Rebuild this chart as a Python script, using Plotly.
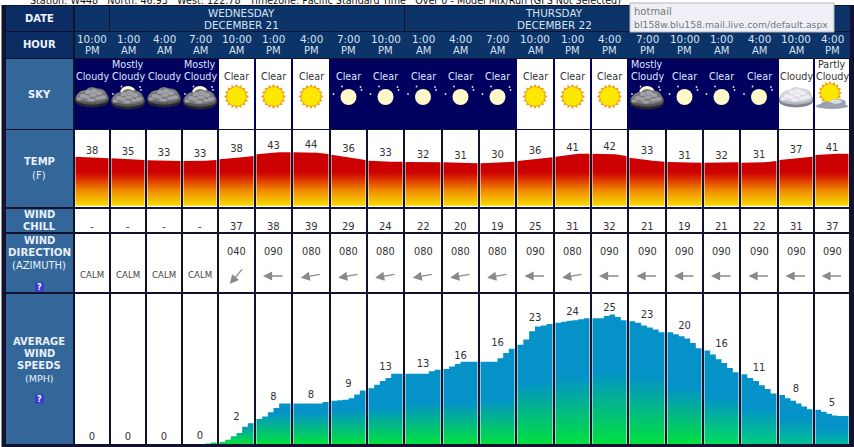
import math
import plotly.graph_objects as go

W, H = 854, 447
FONT = "DejaVu Sans"
FONTB = "DejaVu Sans, Verdana"

# ---------- data ----------
hour_top = ["10:00","1:00","4:00","7:00","10:00","1:00","4:00","7:00","10:00","1:00","4:00","7:00","10:00","1:00","4:00","7:00","10:00","1:00","4:00","10:00","4:00"]
hour_bot = ["PM","AM","AM","AM","AM","PM","PM","PM","PM","AM","AM","AM","AM","PM","PM","PM","PM","AM","AM","AM","PM"]
sky = ["Cloudy","Mostly<br>Cloudy","Cloudy","Mostly<br>Cloudy","Clear","Clear","Clear","Clear","Clear","Clear","Clear","Clear","Clear","Clear","Clear","Mostly<br>Cloudy","Clear","Clear","Clear","Cloudy","Partly<br>Cloudy"]
is_day = [0,0,0,0,1,1,1,0,0,0,0,0,1,1,1,0,0,0,0,1,1]
temp = [38,35,33,33,38,43,44,36,33,32,31,30,36,41,42,33,31,32,31,37,41]
chill = ["-","-","-","-",37,38,39,29,24,22,20,19,25,31,32,21,19,21,22,31,37]
azimuth = [None,None,None,None,40,90,80,80,80,80,80,80,90,80,90,90,90,90,90,90,90]
wind = [0,0,0,0,2,8,8,9,13,13,16,16,23,24,25,23,20,16,11,8,5]
temp_curve = [
 [38.5,38.1,37.2,36.4],[36.4,35.5,35.1,34.3],[33.8,33.4,33.0,33.0],[33.0,33.0,33.4,34.3],
 [35.1,35.9,37.6,39.3],[41.5,42.7,44.0,44.0],[44.0,44.0,43.6,41.9],[41.0,38.5,36.4,34.3],
 [33.4,32.6,32.1,32.1],[31.7,31.7,31.7,31.3],[31.3,30.9,30.4,30.0],[30.0,30.4,31.3,32.1],
 [33.0,34.3,36.4,37.6],[38.5,40.6,42.3,42.3],[42.3,42.3,41.5,39.3],[37.2,35.1,33.4,32.1],
 [31.7,31.3,30.9,30.9],[30.9,31.3,31.7,31.3],[30.9,30.9,31.3,33.0],[34.3,35.9,37.6,38.5],
 [40.6,41.9,42.3,42.3]]
wind_curve = [
 [0,0,0,0,0,0],[0,0,0,0,0,0],[0,0,0,0,0,0],[0,0,0,0,0.1,0.3],
 [0.4,0.8,1.5,2.1,3.3,4.0],[4.8,5.3,6.1,6.9,7.8,7.8],[7.8,7.8,7.8,7.8,7.8,8.1],[8.3,8.4,8.5,8.8,9.5,10.3],
 [10.7,11.4,12.1,12.7,13.5,13.5],[13.5,13.5,13.5,13.5,14.0,14.3],[14.4,14.9,15.4,15.8,15.8,15.8],[15.8,15.8,15.8,16.5,17.5,18.3],
 [19.1,20.1,21.7,22.6,22.8,23.1],[23.3,23.5,23.7,23.8,24.0,24.2],[24.2,24.2,24.6,24.9,24.4,23.8],[23.6,23.3,22.8,22.4,22.0,21.5],
 [21.5,21.1,20.7,20.3,19.4,18.4],[18.0,17.2,16.3,15.6,14.6,13.8],[13.4,12.7,12.1,11.3,10.6,9.7],[9.4,8.8,8.3,7.8,7.2,6.7],
 [6.6,6.2,5.8,5.5,5.4,5.4]]

# ---------- layout constants ----------
edges = [74,110,146,182,218,255,292,330,367,404,442,479,516,554,591,628,666,703,740,778,814,850]
centres = [(edges[i]+edges[i+1])/2 for i in range(21)]
temp_label_y = [45.7,44,41.9,41.5,47,51.2,52.5,48.2,41.9,40.6,38.5,39.8,44.8,49.1,50.4,44.8,39.3,39.3,40.2,46.1,49.5]
wind_label_y = [1.2,1.2,1.2,1.5,5.1,9.0,9.3,11.4,14.7,15.2,16.8,19.3,24.1,25.3,26.0,24.7,22.6,19.2,14.5,10.5,7.8]
blue_until = [1,1,1,1,4,6,6,6.5,7,8,8,8.5,12,13,14,13,11,9,7,5,3]
green_base = ["#00e040"]*17 + ["#00dc60","#00cc80","#00c090","#00b8a0"]
ROW = dict(date=(6,31),hour=(32,58),sky=(59,129),temp=(130,207),chill=(209,232),dir=(234,292),wind=(294,444))
NAVY, STEEL, HEAD, NIGHT = "#0b2d63", "#336699", "#0d3468", "#00005f"
DARK = "#12122e"
HEADTXT, BODY = "#d4e2f0", "#333333"

def py(p):
    return 1 - p / H

shapes, ann = [], []
def rect(x0, y0, x1, y1, color, line=None):
    shapes.append(dict(type="rect", xref="x", yref="paper", x0=x0, x1=x1, y0=py(y0), y1=py(y1),
                       fillcolor=color, line=dict(width=1 if line else 0, color=line or color), layer="below"))
def oval(cx, cy, rx, ry, color):
    shapes.append(dict(type="circle", xref="x", yref="paper", x0=cx-rx, x1=cx+rx, y0=py(cy+ry), y1=py(cy-ry),
                       fillcolor=color, line=dict(width=0), layer="below"))
def text(x, y, s, size=10, color=BODY, bold=False, xanchor="center"):
    ann.append(dict(xref="x", yref="paper", x=x, y=py(y), text=("<b>%s</b>" % s) if bold else s, showarrow=False,
                    xanchor=xanchor, yanchor="middle", align="center",
                    font=dict(family=FONTB, size=size, color=color), borderpad=0, borderwidth=0))

# frame and top strip
rect(0, 0, W, 5, "#ffffff")
rect(0, 0, 1.5, H, "#ffffff")
text(30, 0.2, "Station: W448 &nbsp; North: 46.93 &nbsp; West: 122.78 &nbsp; Timezone: Pacific Standard Time &nbsp; Over 0 - Model Mix/Run (GFS Not Selected)",
     size=9.6, color="#111111", xanchor="left")

# left label column
for key, col in [("date",NAVY),("hour",NAVY),("sky",STEEL),("temp",STEEL),("chill",STEEL),("dir",STEEL),("wind",STEEL)]:
    rect(6, ROW[key][0], 73, ROW[key][1], col)
rect(75, 6, 109, 31, HEAD)
rect(110, 6, 404, 31, HEAD)
rect(405, 6, 850, 31, HEAD)
rect(75, 32, 850, 58, HEAD)
rect(75, 59, 850, 129, NIGHT)

for i in range(21):
    l, r = edges[i]+1, edges[i+1]-1
    if is_day[i]:
        rect(l, ROW["sky"][0], r, ROW["sky"][1], "#ffffff")
    for key in ("temp","chill","dir","wind"):
        rect(l, ROW[key][0], r, ROW[key][1], "#ffffff")

# row labels
text(39, 19, "DATE", 10, "#eef3fa", True)
text(39, 45, "HOUR", 10, "#eef3fa", True)
text(39, 94, "SKY", 10, "#eef3fa", True)
text(39, 162, "TEMP", 10, "#e8f0f8", True)
text(39, 175, "(F)", 10, "#e8f0f8")
text(39, 214, "WIND", 10, "#e8f0f8", True)
text(39, 226, "CHILL", 10, "#e8f0f8", True)
text(39, 240, "WIND", 10, "#e8f0f8", True)
text(39, 252, "DIRECTION", 10.3, "#e8f0f8", True)
text(39, 265, "(AZIMUTH)", 10, "#e8f0f8")
text(39, 341, "AVERAGE", 10, "#e8f0f8", True)
text(39, 353, "WIND", 10, "#e8f0f8", True)
text(39, 365, "SPEEDS", 10, "#e8f0f8", True)
text(39, 378, "(MPH)", 9.5, "#e8f0f8")
for qy in (287, 399):
    rect(35, qy-4.5, 44, qy+4.5, "#3a3acc")
    text(39.5, qy, "?", 8, "#ffffff", True)

text(241, 13, "WEDNESDAY", 10.4, HEADTXT)
text(241, 25, "DECEMBER 21", 10.4, HEADTXT)
text(554, 13, "THURSDAY", 10.4, HEADTXT)
text(554, 25, "DECEMBER 22", 10.4, HEADTXT)

BLOBS = [(0,3.5,16.5,6),(-7,0,8.5,7),(6,-1,9.5,8),(0,-4,7,5.5),(-12,2,5,5),(12,2,5,5)]
SPECKS = [(-9,-1,3,2),(-4,-5,3,2),(2,-6,3.4,2.2),(7,-4,3,2),(11,0,3,1.8),(-13,2,2.5,1.6),(-5,0,3,1.8),(1,-2,3.5,1.8),(6,1,3,1.6),(-1,3,3.5,1.4)]
def cloud(cx, cy, tone="dark"):
    if tone == "dark":
        base, mid, top, hi = "#26262c", "#58585c", "#7c7c80", "#a2a2a6"
    else:
        base, mid, top, hi = "#80848c", "#b4b7be", "#d6d8de", "#f0f0f4"
    for dx, dy, rx, ry in BLOBS:
        oval(cx+dx, cy+dy+1, rx, ry, base)
    for dx, dy, rx, ry in BLOBS:
        oval(cx+dx, cy+dy-0.8, rx*0.94, ry*0.85, mid)
    for dx, dy, rx, ry in BLOBS:
        oval(cx+dx*0.95, cy+dy-2.2, rx*0.84, ry*0.66, top)
    for dx, dy, rx, ry in SPECKS:
        oval(cx+dx, cy+dy, rx, ry, hi)

def sun(cx, cy, r=9.5, rays=True):
    if rays:
        pts = []
        for k in range(32):
            rad = r+3 if k % 2 == 0 else r+0.3
            a = math.pi * k / 16
            pts.append("%s%.2f,%.5f" % ("M" if k == 0 else "L", cx+rad*math.cos(a), py(cy+rad*math.sin(a))))
        shapes.append(dict(type="path", xref="x", yref="paper", path=" ".join(pts)+" Z",
                           fillcolor="#f0a010", line=dict(width=0), layer="below"))
    oval(cx, cy, r, r, "#ffe800")

def stars(cx):
    for dx, dy in [(-6.5,-10.5),(12,-10),(-15,-3),(13,-7)]:
        oval(cx+dx, 97+dy, 0.9, 0.9, "#dfe6ff")

# sky column contents
for i, s in enumerate(sky):
    c = centres[i]
    col = BODY if is_day[i] else "#dde6ff"
    if "<br>" in s:
        a, b = s.split("<br>")
        text(c, 65, a, 9.6, col)
        text(c, 77, b, 9.6, col)
    else:
        text(c, 77, s, 9.6, col)
    if s == "Clear":
        if is_day[i]:
            sun(c, 96.5)
        else:
            stars(c)
            oval(c, 97, 8, 8, "#fff8c8")
    elif s == "Cloudy":
        cloud(c, 97, "dark" if not is_day[i] else "light")
    elif s.startswith("Mostly"):
        stars(c)
        oval(c, 93, 8, 7, "#fff8d8")
        cloud(c, 99)
    elif s.startswith("Partly"):
        sun(c-2, 93, 9)
        for dx, dy, rx, ry in [(0,9,16,3),(6,5.5,8,3.5),(-6,7,5,2.5)]:
            oval(c+dx, 97+dy, rx, ry, "#98a2b0")
        oval(c+4, 101.5, 6, 2.2, "#d8dce4")

# hours, chill, wind direction
for i in range(21):
    c = centres[i]
    text(c, 39, hour_top[i], 10.4, HEADTXT)
    text(c, 51, hour_bot[i], 10, HEADTXT)
    text(c, 226, str(chill[i]), 10, BODY)
    if azimuth[i] is None:
        text(c, 275, "CALM", 8.6, "#444444")
    else:
        text(c, 252, "%03d" % azimuth[i], 9.8, BODY)
        L = 21
        a = math.radians(azimuth[i])
        hx, hy = c - math.sin(a)*L/2, 276 + math.cos(a)*L/2
        ann.append(dict(xref="x", yref="paper", x=hx, y=py(hy), ax=math.sin(a)*L, ay=-math.cos(a)*L,
                        axref="pixel", ayref="pixel", text="", showarrow=True, arrowhead=2, arrowsize=1.4,
                        arrowwidth=1.3, arrowcolor="#8a8a8a"))

fig = go.Figure()

TEMP_BOTTOM = -24
T_SCALE = [[0,"#f6dc00"],[0.45,"#f08a00"],[0.8,"#dc2c00"],[1,"#cc0000"]]
for i in range(21):
    n = len(temp_curve[i])
    l, r = edges[i]+1.5, edges[i+1]-1.5
    xs = [l+(r-l)*k/(n-1) for k in range(n)]
    fig.add_trace(go.Scatter(x=xs+[r,l], y=temp_curve[i]+[TEMP_BOTTOM,TEMP_BOTTOM], mode="lines",
        line=dict(width=0), fill="toself", hoverinfo="skip", showlegend=False,
        fillgradient=dict(type="vertical", colorscale=T_SCALE, start=TEMP_BOTTOM, stop=19), xaxis="x", yaxis="y"))
for i in range(21):
    n = len(wind_curve[i])
    if max(wind_curve[i]) == 0:
        continue
    l, r = edges[i]+1.5, edges[i+1]-1.5
    xs = [l+(r-l)*k/n for k in range(n+1)]
    fig.add_trace(go.Scatter(x=xs, y=wind_curve[i]+[wind_curve[i][-1]], mode="lines",
        line=dict(width=0, shape="hv"), fill="tozeroy", hoverinfo="skip", showlegend=False,
        fillgradient=dict(type="vertical", colorscale=[[0,green_base[i]],[1,"#0492c8"]], start=0, stop=blue_until[i]),
        xaxis="x", yaxis="y2"))

fig.add_trace(go.Scatter(x=centres, y=temp_label_y, text=[str(v) for v in temp], mode="text", textposition="middle center",
    textfont=dict(family=FONT, size=10, color=BODY), hoverinfo="skip", showlegend=False, xaxis="x", yaxis="y"))
fig.add_trace(go.Scatter(x=centres, y=wind_label_y, text=[str(v) for v in wind], mode="text", textposition="middle center",
    textfont=dict(family=FONT, size=10, color=BODY), hoverinfo="skip", showlegend=False, xaxis="x", yaxis="y2"))

# browser tooltip over the page
shapes.append(dict(type="rect", xref="x", yref="paper", x0=630, x1=834, y0=py(32), y1=py(3), fillcolor="#eef0f6",
                   line=dict(width=1, color="#b4b4bc"), layer="above"))
ann.append(dict(xref="x", yref="paper", x=632, y=py(11), text="hotmail", showarrow=False, xanchor="left", yanchor="middle",
                font=dict(family=FONT, size=10, color="#777777")))
ann.append(dict(xref="x", yref="paper", x=632, y=py(24), text="bl158w.blu158.mail.live.com/default.aspx", showarrow=False,
                xanchor="left", yanchor="middle", font=dict(family=FONT, size=9.3, color="#777777")))

# axis ranges chosen so that the panels line up with their rows
temp_top = 44 + 67/2.36
temp_bot = 44 - (231-67)/2.36
wind_bot = 0
wind_top = (444 - 294) / 5.2

fig.update_layout(
    width=W, height=H, margin=dict(l=0, r=0, t=0, b=0), paper_bgcolor=DARK, plot_bgcolor="rgba(0,0,0,0)",
    showlegend=False, shapes=shapes, annotations=ann,
    xaxis=dict(range=[0, W], domain=[0, 1], visible=False, fixedrange=True),
    yaxis=dict(range=[temp_bot, temp_top], domain=[py(207), py(130)], visible=False, fixedrange=True),
    yaxis2=dict(range=[wind_bot, wind_top], domain=[py(444), py(294)], visible=False, fixedrange=True),
)
fig.write_html("out.html", config=dict(displayModeBar=False),
               post_script="document.body.style.margin='0';document.body.style.overflow='hidden';")
